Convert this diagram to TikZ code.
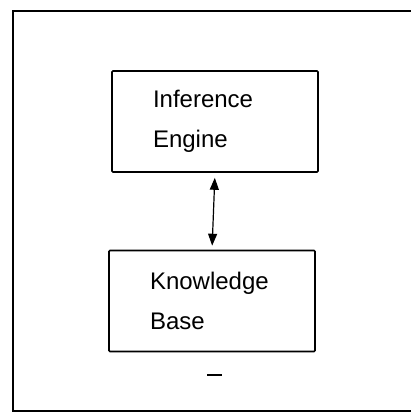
\documentclass[tikz,border=0pt]{standalone}
\usepackage{fontspec}
\setmainfont{Liberation Sans}
\usetikzlibrary{arrows.meta}
\begin{document}
\begin{tikzpicture}[x=1pt,y=-1pt,
  frame/.style={line width=1.8pt},
  block/.style={draw,line width=1.6pt,rounded corners=1pt,minimum width=206pt,minimum height=101pt,
    text width=124pt,align=left,font=\fontsize{24}{40}\selectfont,inner sep=0pt},
  link/.style={line width=1.2pt,{Triangle[length=12pt,width=9pt]}-{Triangle[length=12pt,width=9pt]},shorten <=5pt,shorten >=4pt}]
\useasboundingbox (0,0) rectangle (411,413);
\draw[frame] (414,11) -- (13,11) -- (13,411) -- (414,411);
\node[block] (ie) at (215,121.5) {Inference\\Engine};
\node[block] (kb) at (212,301) {Knowledge\\Base};
\draw[link] (ie.south) -- (kb.north);
\coordinate (d1) at (207,375);
\coordinate (d2) at (222,375);
\draw[line width=1.6pt] (d1) -- (d2);
\end{tikzpicture}
\end{document}
